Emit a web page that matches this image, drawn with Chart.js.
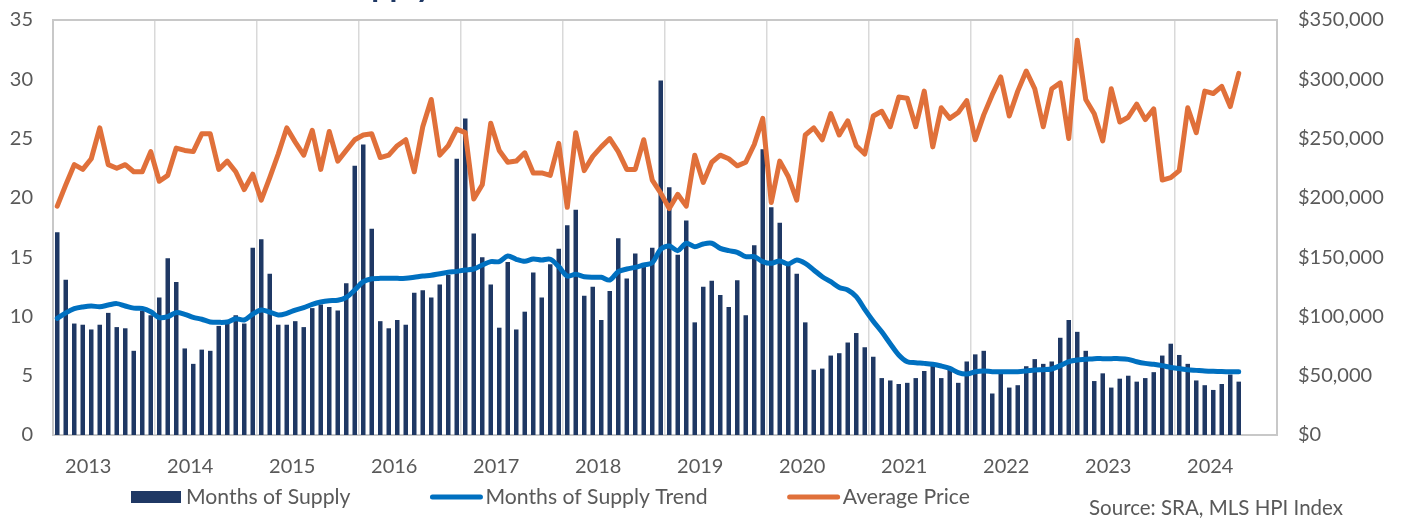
<!DOCTYPE html>
<html>
<head>
<meta charset="utf-8">
<script src="https://cdn.jsdelivr.net/npm/chart.js@4.4.1/dist/chart.umd.min.js"></script>
<style>
  html, body { margin: 0; padding: 0; background: #ffffff; }
  #wrap { width: 1401px; height: 518px; position: relative; }
</style>
</head>
<body>
<div id="wrap"><canvas id="supplyChart"></canvas></div>
<script>
// first month shown is Sep 2012, axis runs 12 full years (last 4 months empty)
const startYear = 2012;
const startMonth = 8; // 0 = Jan
const monthCount = 144;

const yearTicks = ['2013', '2014', '2015', '2016', '2017', '2018', '2019', '2020', '2021', '2022', '2023', '2024'];

// Months of Supply (bars), Sep 2012 .. Apr 2024
const monthsOfSupply = [
    17.1, 13.1, 9.4, 9.3, 8.9, 9.3, 10.3, 9.1, 9.0, 7.1, 10.5, 10.1,
    11.6, 14.9, 12.9, 7.3, 6.0, 7.2, 7.1, 9.2, 9.4, 10.1, 9.4, 15.8,
    16.5, 13.6, 9.3, 9.3, 9.6, 9.1, 10.7, 11.0, 10.8, 10.5, 12.8, 22.7,
    24.5, 17.4, 9.6, 9.0, 9.7, 9.3, 12.0, 12.2, 11.6, 12.7, 13.5, 23.3,
    26.7, 17.0, 15.0, 12.7, 9.05, 14.6, 8.9, 10.4, 13.7, 11.6, 14.4, 15.7,
    17.7, 19.0, 11.75, 12.5, 9.7, 12.15, 16.6, 13.2, 15.3, 14.3, 15.8, 29.9,
    20.9, 15.2, 18.1, 9.5, 12.5, 13.0, 11.8, 10.8, 13.05, 10.1, 16.0, 24.1,
    19.2, 17.9, 14.3, 13.6, 9.5, 5.5, 5.6, 6.7, 6.9, 7.8, 8.6, 7.4,
    6.6, 4.8, 4.6, 4.3, 4.4, 4.8, 5.4, 5.9, 4.8, 5.6, 4.4, 6.2,
    6.8, 7.1, 3.5, 5.2, 4.0, 4.2, 5.8, 6.4, 6.0, 6.2, 8.2, 9.7,
    8.7, 7.1, 4.55, 5.2, 4.0, 4.75, 5.0, 4.5, 4.8, 5.3, 6.7, 7.7,
    6.75, 6.0, 4.6, 4.2, 3.8, 4.3, 5.1, 4.5
];

// Months of Supply Trend (smoothed line)
const supplyTrend = [
    9.84, 10.3, 10.65, 10.8, 10.88, 10.82, 10.96, 11.08, 10.88, 10.7, 10.68, 10.4,
    9.9, 9.98, 10.32, 10.18, 9.92, 9.76, 9.53, 9.5, 9.53, 9.81, 9.7, 10.2,
    10.54, 10.37, 10.12, 10.26, 10.54, 10.74, 11.02, 11.22, 11.33, 11.36, 11.61, 12.23,
    12.93, 13.18, 13.21, 13.21, 13.21, 13.21, 13.3, 13.41, 13.47, 13.6, 13.72, 13.8,
    13.92, 14.0, 14.34, 14.62, 14.62, 15.1, 14.82, 14.65, 14.84, 14.76, 14.82, 14.2,
    13.41, 13.55, 13.35, 13.3, 13.3, 13.07, 13.78, 14.0, 14.14, 14.34, 14.53, 15.66,
    15.94, 15.55, 16.17, 15.88, 16.11, 16.17, 15.74, 15.55, 15.41, 15.04, 15.04, 14.62,
    14.48, 14.68, 14.42, 14.76, 14.48, 13.92, 13.35, 12.93, 12.45, 12.23, 11.67, 10.6,
    9.6, 8.7, 7.7, 6.75, 6.18, 6.1, 6.04, 5.96, 5.82, 5.62, 5.26, 5.14,
    5.34, 5.4, 5.34, 5.34, 5.34, 5.34, 5.4, 5.48, 5.51, 5.57, 5.85, 6.18,
    6.33, 6.38, 6.44, 6.44, 6.44, 6.44, 6.38, 6.18, 6.04, 5.96, 5.85, 5.7,
    5.6, 5.5, 5.45, 5.4, 5.37, 5.35, 5.34, 5.34
];

// Average Price ($)
const averagePrice = [
    193000, 211000, 228000, 224000, 233000, 259000, 228000, 225000, 228000, 222000, 222000, 239000,
    214000, 219000, 242000, 240000, 239000, 254000, 254000, 224000, 231000, 222000, 207000, 220000,
    198000, 217000, 237000, 259000, 247000, 236000, 257000, 224000, 256000, 231000, 240000, 249000,
    253000, 254000, 234000, 236000, 244000, 249000, 222000, 260000, 283000, 236000, 244000, 258000,
    255000, 199000, 211000, 263000, 240000, 230000, 231000, 238000, 221000, 221000, 219000, 246000,
    192000, 255000, 223000, 235000, 243000, 250000, 239000, 224000, 224000, 249000, 215000, 204000,
    191000, 203000, 193000, 236000, 213000, 230000, 236000, 233000, 227000, 230000, 245000, 267000,
    196000, 231000, 218000, 198000, 253000, 259000, 249000, 271000, 253000, 265000, 244000, 237000,
    269000, 273000, 260000, 285000, 284000, 260000, 290000, 243000, 276000, 267000, 272000, 282000,
    249000, 270000, 287000, 302000, 269000, 290000, 307000, 292000, 260000, 292000, 297000, 250000,
    333000, 283000, 271000, 248000, 292000, 264000, 268000, 279000, 266000, 275000, 215000, 217000,
    223000, 276000, 255000, 290000, 288000, 294000, 277000, 305000
];

const monthNames = ['Jan', 'Feb', 'Mar', 'Apr', 'May', 'Jun', 'Jul', 'Aug', 'Sep', 'Oct', 'Nov', 'Dec'];

// category labels, one per month
const labels = [];
for (let i = 0; i < monthCount; i++) {
    const m = (startMonth + i) % 12;
    const y = startYear + Math.floor((startMonth + i) / 12);
    labels.push(monthNames[m] + ' ' + y);
}

const navy = '#1F3864';
const blue = '#0070C0';
const orange = '#E0703A';
const textGray = '#595959';
const fontFamily = 'Lato, "Noto Sans", sans-serif';

// gray frame round the plot area
const plotFrame = {
    id: 'plotFrame',
    beforeDatasetsDraw(chart) {
        const { ctx, chartArea } = chart;
        ctx.save();
        ctx.strokeStyle = '#C8C8C8';
        ctx.lineWidth = 2;
        ctx.strokeRect(chartArea.left, chartArea.top, chartArea.right - chartArea.left, chartArea.bottom - chartArea.top);
        ctx.restore();
    }
};

// legend, source note and the clipped title above the chart
const extras = {
    id: 'extras',
    afterDraw(chart) {
        const ctx = chart.ctx;
        ctx.save();

        // title sits mostly above the picture, only descenders show
        ctx.font = 'bold 32px ' + fontFamily;
        ctx.fillStyle = navy;
        ctx.textBaseline = 'alphabetic';
        ctx.textAlign = 'left';
        const lead = ctx.measureText('Months of ').width;
        ctx.fillText('Months of Supply', 336 - lead, -3);

        // legend
        ctx.font = '21.2px ' + fontFamily;
        ctx.textBaseline = 'middle';
        ctx.fillStyle = textGray;
        const legendY = 497;
        let x = 131;
        chart.data.datasets.forEach(function (ds) {
            if (ds.type === 'bar') {
                ctx.fillStyle = ds.backgroundColor;
                ctx.fillRect(x, legendY - 6, 50, 12);
            } else {
                ctx.strokeStyle = ds.borderColor;
                ctx.lineWidth = 5;
                ctx.lineCap = 'round';
                ctx.beginPath();
                ctx.moveTo(x + 2, legendY);
                ctx.lineTo(x + 50, legendY);
                ctx.stroke();
            }
            ctx.fillStyle = textGray;
            ctx.fillText(ds.label, x + 55, legendY);
            x += 55 + ctx.measureText(ds.label).width + 80;
        });

        // source note
        ctx.font = '20.5px ' + fontFamily;
        ctx.textAlign = 'right';
        ctx.fillText('Source: SRA, MLS HPI Index', 1343, 508);
        ctx.restore();
    }
};

// keep the y axes from pushing the plot area down
function fitY(width) {
    return function (scale) {
        scale.width = width;
        scale.paddingTop = 0;
        scale.paddingBottom = 0;
    };
}

const ctx = document.getElementById('supplyChart').getContext('2d');

new Chart(ctx, {
    data: {
        labels: labels,
        datasets: [
            {
                type: 'bar',
                label: 'Months of Supply',
                data: monthsOfSupply,
                backgroundColor: navy,
                yAxisID: 'y',
                barPercentage: 0.53,
                categoryPercentage: 1.0,
                order: 3
            },
            {
                type: 'line',
                label: 'Months of Supply Trend',
                data: supplyTrend,
                borderColor: blue,
                backgroundColor: blue,
                borderWidth: 5,
                pointRadius: 0,
                tension: 0.3,
                borderCapStyle: 'round',
                borderJoinStyle: 'round',
                yAxisID: 'y',
                order: 2
            },
            {
                type: 'line',
                label: 'Average Price',
                data: averagePrice,
                borderColor: orange,
                backgroundColor: orange,
                borderWidth: 5,
                pointRadius: 0,
                tension: 0,
                borderCapStyle: 'round',
                borderJoinStyle: 'round',
                yAxisID: 'y1',
                order: 1
            }
        ]
    },
    options: {
        responsive: true,
        maintainAspectRatio: false,
        animation: false,
        layout: {
            padding: { top: 20, left: 0, right: 0, bottom: 0 }
        },
        plugins: {
            legend: { display: false },
            tooltip: { enabled: false }
        },
        scales: {
            x: {
                type: 'category',
                offset: true,
                grid: {
                    display: true,
                    offset: true,
                    drawTicks: false,
                    lineWidth: 1.5,
                    color: function (c) {
                        return c.index % 12 === 0 ? '#D9D9D9' : 'rgba(0,0,0,0)';
                    }
                },
                border: { display: false },
                ticks: {
                    autoSkip: false,
                    maxRotation: 0,
                    padding: 20,
                    labelOffset: -3,
                    color: textGray,
                    font: { family: fontFamily, size: 20 },
                    callback: function (value, index) {
                        const m = (startMonth + index) % 12;
                        if (m !== 0) return '';
                        return yearTicks[Math.floor((startMonth + index) / 12) - 1] || '';
                    }
                },
                afterFit: function (scale) { scale.height = 83; }
            },
            y: {
                position: 'left',
                min: 0,
                max: 35,
                grid: { display: false, drawTicks: false },
                border: { display: false },
                ticks: {
                    stepSize: 5,
                    padding: 20,
                    color: textGray,
                    font: { family: fontFamily, size: 20 }
                },
                afterFit: fitY(53)
            },
            y1: {
                position: 'right',
                min: 0,
                max: 350000,
                grid: { display: false, drawTicks: false },
                border: { display: false },
                ticks: {
                    stepSize: 50000,
                    padding: 21,
                    color: textGray,
                    font: { family: fontFamily, size: 20 },
                    callback: function (v) { return '$' + v.toLocaleString('en-US'); }
                },
                afterFit: fitY(124)
            }
        }
    },
    plugins: [plotFrame, extras]
});
</script>
</body>
</html>
